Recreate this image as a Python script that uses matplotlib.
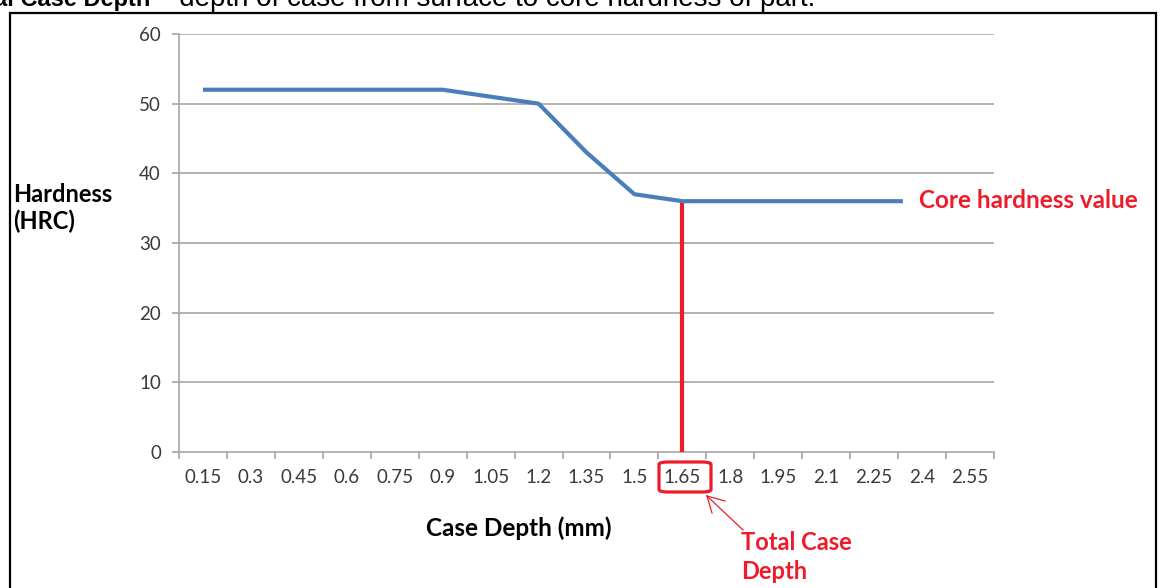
import matplotlib
matplotlib.use("Agg")
import matplotlib.pyplot as plt
from matplotlib.patches import Rectangle, FancyBboxPatch
from matplotlib.lines import Line2D

# ---- data ----
depth_mm = [0.15, 0.3, 0.45, 0.6, 0.75, 0.9, 1.05, 1.2, 1.35, 1.5, 1.65,
            1.8, 1.95, 2.1, 2.25, 2.34]
hardness_hrc = [52, 52, 52, 52, 52, 52, 51, 50, 43, 37, 36,
                36, 36, 36, 36, 36]
tick_labels = ["0.15", "0.3", "0.45", "0.6", "0.75", "0.9", "1.05", "1.2",
               "1.35", "1.5", "1.65", "1.8", "1.95", "2.1", "2.25", "2.4", "2.55"]
tick_values = [0.15 * (i + 1) for i in range(len(tick_labels))]
y_ticks = [0, 10, 20, 30, 40, 50, 60]
total_case_depth = 1.65
core_hardness = 36

W, H = 1160, 588
fig = plt.figure(figsize=(W / 100, H / 100), dpi=100)
FONT = "Lato"
plt.rcParams["font.family"] = [FONT, "DejaVu Sans"]

def fx(px):
    return px / W

def fy(py):
    return 1 - py / H

ax = fig.add_axes([fx(179), fy(452), fx(994) - fx(179), fy(34) - fy(452)])

blue = "#4a7ebb"
red = "#ee1c2a"
grid = "#a6a6a6"

ax.plot(depth_mm, hardness_hrc, color=blue, lw=3.0, solid_capstyle="butt",
        solid_joinstyle="round", zorder=3)
ax.vlines(total_case_depth, 0, core_hardness - 0.3, color=red, lw=3.0, zorder=4)

ax.set_xlim(0.075, 0.075 + 0.15 * len(tick_labels))
ax.set_ylim(0, 60)
ax.set_yticks(y_ticks)
ax.set_yticklabels([str(v) for v in y_ticks])
ax.set_xticks(tick_values)
ax.set_xticklabels(tick_labels)
ax.set_xticks([0.075 + 0.15 * i for i in range(len(tick_labels) + 1)], minor=True)

for v in y_ticks[1:]:
    ax.axhline(v, color=grid, lw=1.2, zorder=1)

for s in ["top", "right"]:
    ax.spines[s].set_visible(False)
for s in ["left", "bottom"]:
    ax.spines[s].set_color(grid)
    ax.spines[s].set_linewidth(1.2)

ax.tick_params(axis="x", which="major", length=0, pad=12, labelsize=13.5,
               labelcolor="#3a3a3a")
ax.tick_params(axis="x", which="minor", length=5, width=1.2, color=grid)
ax.tick_params(axis="y", which="major", length=5, width=1.2, color=grid,
               pad=8, labelsize=13.5, labelcolor="#3a3a3a")

# axis titles
fig.text(fx(13), fy(208), "Hardness\n(HRC)", ha="left", va="center",
         fontsize=17, fontweight="bold", color="black", linespacing=1.22)
fig.text(fx(519), fy(528), "Case Depth (mm)", ha="center", va="center",
         fontsize=17.5, fontweight="bold", color="black")

# annotations
fig.text(fx(919), fy(201), "Core hardness value", ha="left", va="center",
         fontsize=17.5, fontweight="bold", color=red)
fig.text(fx(741), fy(557), "Total Case\nDepth", ha="left", va="center",
         fontsize=17, fontweight="bold", color=red, linespacing=1.3)

box = FancyBboxPatch((fx(659), fy(492)), fx(711) - fx(659), fy(462) - fy(492),
                     boxstyle="round,pad=0,rounding_size=0.008",
                     transform=fig.transFigure, fill=False, ec=red, lw=2.3,
                     mutation_aspect=H / W)
fig.add_artist(box)

tip = (707, 496)
for end in [(743, 530), (725, 501), (712, 513)]:
    fig.add_artist(Line2D([fx(tip[0]), fx(end[0])], [fy(tip[1]), fy(end[1])],
                          transform=fig.transFigure, color=red, lw=0.9))

# frame around chart
fig.add_artist(Rectangle((fx(10), fy(600)), fx(1156) - fx(10), fy(13) - fy(600),
                         transform=fig.transFigure, fill=False, ec="black", lw=1.6))

# caption at the top, partly cut by the image edge as in the reference
t1 = fig.text(fx(-6), fy(6), "al Case Depth", ha="left", va="baseline",
              fontsize=17, fontweight="bold", family=["Liberation Sans"], color="black")
fig.canvas.draw()
x1 = t1.get_window_extent().x1
fig.text((x1 + 6) / W, fy(6), "– depth of case from surface to core hardness of part.",
         ha="left", va="baseline", fontsize=20, family=["Liberation Sans"], color="black")

fig.savefig("out.png", dpi=100)
